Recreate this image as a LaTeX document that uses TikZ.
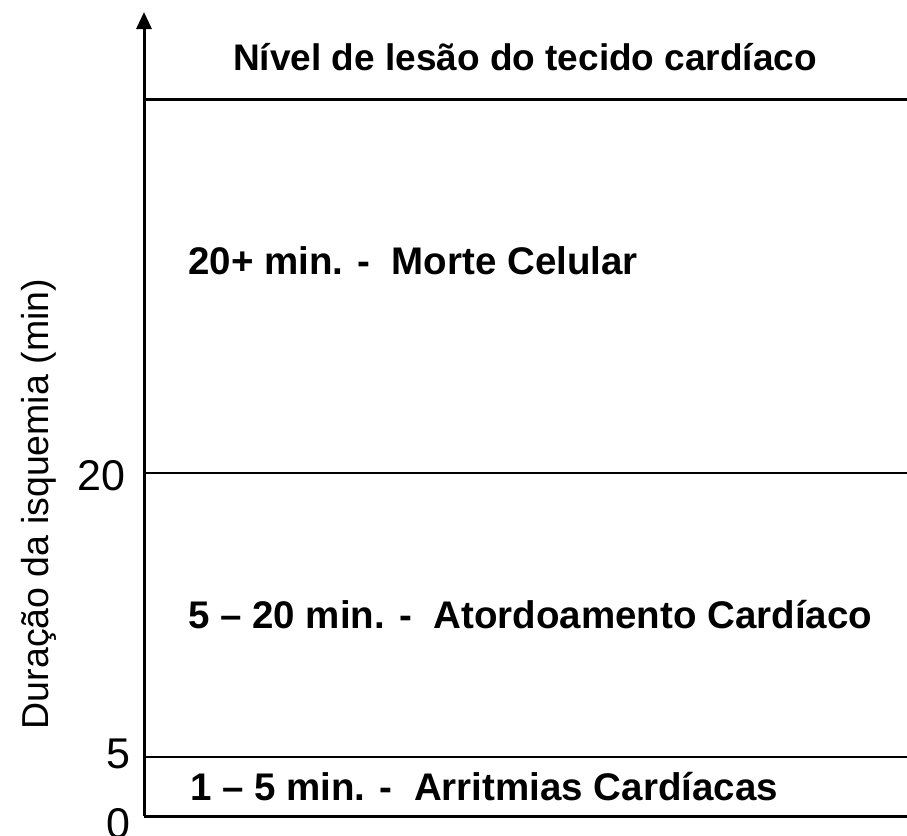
\documentclass[tikz,border=0pt]{standalone}
\usepackage{fontspec}
\setmainfont{Liberation Sans}
\usetikzlibrary{arrows.meta}
\begin{document}
\begin{tikzpicture}[x=1pt,y=-1pt,
  thickline/.style={line width=3pt},
  thinline/.style={line width=1.5pt},
  lbl/.style={font=\fontsize{38.5}{42}\selectfont\bfseries, anchor=base west, inner sep=0pt},
  tick/.style={font=\fontsize{43}{46}\selectfont, anchor=base east, inner sep=0pt}]
\useasboundingbox (0,0) rectangle (907,835);
\coordinate (origin) at (144,816);
\coordinate (top) at (144,12);
\coordinate (t0) at (144,99);
\coordinate (t0r) at (907,99);
\coordinate (t20) at (144,473);
\coordinate (t20r) at (907,473);
\coordinate (t5) at (144,757);
\coordinate (t5r) at (907,757);
\coordinate (br) at (907,816);
\draw[thickline, -{Triangle[length=17pt,width=15pt]}] (origin) -- (top);
\draw[thickline] (t0) -- (t0r);
\draw[thinline] (t20) -- (t20r);
\draw[thinline] (t5) -- (t5r);
\draw[thickline] (origin) -- (br);
\node[font=\fontsize{37}{40}\selectfont\bfseries, anchor=base, inner sep=0pt] (title) at (525,70) {Nível de lesão do tecido cardíaco};
\node[lbl] (l1) at (188,274) {20+ min. -\ \ Morte Celular};
\node[lbl] (l2) at (188,628) {5 – 20 min. -\ \ Atordoamento Cardíaco};
\node[lbl] (l3) at (190,800) {1 – 5 min. -\ \ Arritmias Cardíacas};
\node[tick] (n20) at (126,490) {20};
\node[tick] (n5) at (131,768) {5};
\node[tick] (n0) at (131,838) {0};
\node[font=\fontsize{37.5}{40}\selectfont, rotate=90, anchor=base, inner sep=0pt] (ylab) at (48,504) {Duração da isquemia (min)};
\end{tikzpicture}
\end{document}
